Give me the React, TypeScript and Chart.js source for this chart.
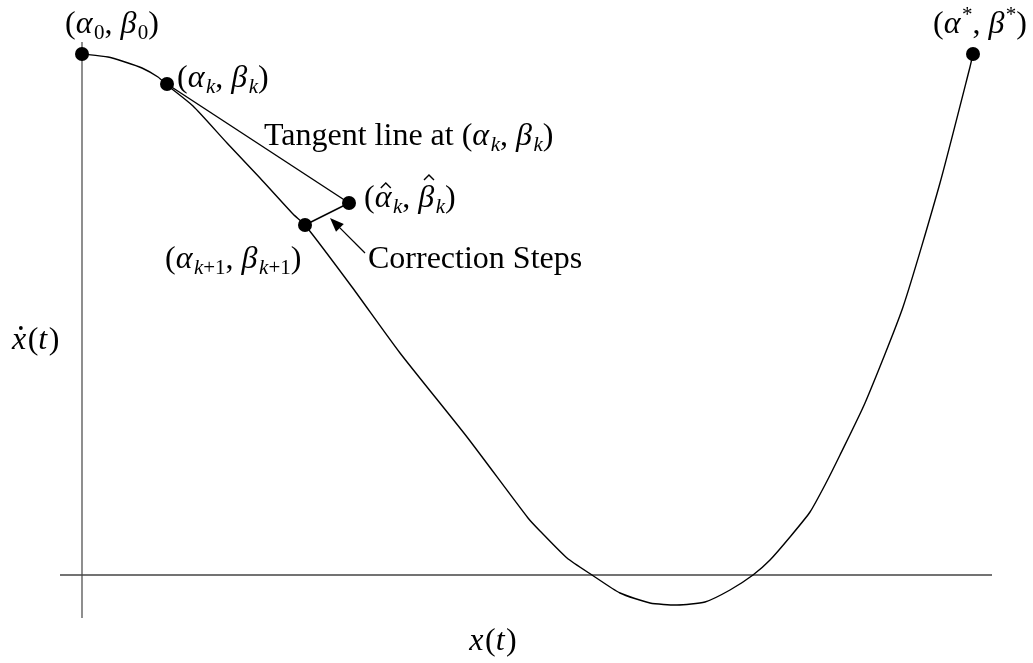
import React, { useEffect, useRef } from "react";
import { Chart, registerables } from "chart.js";

Chart.register(...registerables);

// ---- data (arbitrary diagram units; vertical axis at x = 0, horizontal axis at y = 0) ----
const curveX = [0, 2.6, 4.3, 6.0, 7.6, 8.5, 11.1, 14.5, 17.8, 21.1, 22.3, 27.0, 31.8, 38.5, 44.6, 45.8, 48.5, 51.0, 53.8, 56.8, 59.5, 62.3, 64.8, 67.1, 68.8, 70.8, 72.8, 74.4, 75.8, 78.3, 82.1, 85.8, 88.8, 89.1];
const curveY = [52.1, 51.8, 51.3, 50.7, 49.8, 49.0, 46.9, 43.2, 39.7, 36.1, 35.0, 28.8, 22.2, 13.8, 5.7, 4.4, 1.7, 0, -1.8, -2.8, -3.0, -2.7, -1.5, 0, 1.5, 3.8, 6.3, 9.2, 12.0, 17.2, 26.8, 39.2, 50.8, 52.1];

// marked points: start, (alpha_k,beta_k), predicted (hat), corrected (k+1), end
const pointNames = ["start", "k", "hat", "k1", "end"];
const pointX = [0, 8.5, 26.7, 22.3, 89.1];
const pointY = [52.1, 49.1, 37.2, 35.0, 52.1];

// axes extents
const xAxisRange = [-2.2, 91.0];
const yAxisRange = [-4.3, 53.3];

// arrow (tail -> tip)
const arrowX = [28.3, 24.8];
const arrowY = [32.2, 35.7];

const FONT = '"Liberation Serif", "DejaVu Serif", serif';

type Seg = { t: string; it?: boolean; sh?: "sub" | "sup"; hat?: boolean; dot?: boolean };

const I = (t: string, extra: Partial<Seg> = {}): Seg => ({ t, it: true, ...extra });
const R = (t: string, extra: Partial<Seg> = {}): Seg => ({ t, it: false, ...extra });

const kp1 = (): Seg[] => [I("k", { sh: "sub" }), R("+1", { sh: "sub" })];

// labels: anchor in data units, alignment
const labels: { segs: Seg[]; x: number; y: number; align: "left" | "center" }[] = [
  { segs: [R("("), I("α"), R("0", { sh: "sub" }), R(", "), I("β"), R("0", { sh: "sub" }), R(")")], x: 3.0, y: 54.2, align: "center" },
  { segs: [R("("), I("α"), I("k", { sh: "sub" }), R(", "), I("β"), I("k", { sh: "sub" }), R(")")], x: 9.5, y: 48.8, align: "left" },
  { segs: [R("Tangent line at ("), I("α"), I("k", { sh: "sub" }), R(", "), I("β"), I("k", { sh: "sub" }), R(")")], x: 18.2, y: 43.0, align: "left" },
  { segs: [R("("), I("α", { hat: true }), I("k", { sh: "sub" }), R(", "), I("β", { hat: true }), I("k", { sh: "sub" }), R(")")], x: 28.2, y: 36.8, align: "left" },
  { segs: [R("("), I("α"), ...kp1(), R(", "), I("β"), ...kp1(), R(")")], x: 8.3, y: 30.7, align: "left" },
  { segs: [R("Correction Steps")], x: 28.6, y: 30.7, align: "left" },
  { segs: [R("("), I("α"), R("*", { sh: "sup" }), R(", "), I("β"), R("*", { sh: "sup" }), R(")")], x: 89.8, y: 54.2, align: "center" },
  { segs: [I("x", { dot: true }), R("("), I("t"), R(")")], x: -7.0, y: 22.6, align: "left" },
  { segs: [I("x"), R("("), I("t"), R(")")], x: 41.1, y: -7.5, align: "center" },
];

const SIZE = 32;
const SUB = 21;

function segFont(s: Seg) {
  const size = s.sh ? SUB : SIZE;
  return `${s.it ? "italic " : ""}${size}px ${FONT}`;
}

function drawRich(ctx: CanvasRenderingContext2D, segs: Seg[], x: number, y: number, align: string) {
  const widths = segs.map((s) => {
    ctx.font = segFont(s);
    return ctx.measureText(s.t).width + (s.it && !s.sh ? 1.5 : 0);
  });
  const total = widths.reduce((a, b) => a + b, 0);
  let cx = align === "center" ? x - total / 2 : x;
  ctx.textBaseline = "alphabetic";
  ctx.textAlign = "left";
  ctx.fillStyle = "#000";
  segs.forEach((s, i) => {
    ctx.font = segFont(s);
    const dy = s.sh === "sub" ? 6 : s.sh === "sup" ? -12 : 0;
    ctx.fillText(s.t, cx, y + dy);
    const w = widths[i];
    if (s.hat) {
      const top = s.t === "β" ? y - 26 : y - 18;
      const mx = cx + w / 2 + 2;
      ctx.beginPath();
      ctx.moveTo(mx - 5, top - 1);
      ctx.lineTo(mx, top - 6);
      ctx.lineTo(mx + 5, top - 1);
      ctx.lineWidth = 1.4;
      ctx.strokeStyle = "#000";
      ctx.stroke();
    }
    if (s.dot) {
      ctx.beginPath();
      ctx.arc(cx + w / 2 + 1, y - 21, 1.9, 0, Math.PI * 2);
      ctx.fill();
    }
    cx += w;
  });
}

const overlay = {
  id: "diagramOverlay",
  afterDatasetsDraw(chart: any) {
    const { ctx, scales } = chart;
    const xs = scales.x;
    const ys = scales.y;
    ctx.save();
    // arrow
    const x0 = xs.getPixelForValue(arrowX[0]);
    const y0 = ys.getPixelForValue(arrowY[0]);
    const x1 = xs.getPixelForValue(arrowX[1]);
    const y1 = ys.getPixelForValue(arrowY[1]);
    const ang = Math.atan2(y1 - y0, x1 - x0);
    const hl = 14;
    const hw = 5.5;
    const bx = x1 - hl * Math.cos(ang);
    const by = y1 - hl * Math.sin(ang);
    ctx.strokeStyle = "#000";
    ctx.lineWidth = 1.3;
    ctx.beginPath();
    ctx.moveTo(x0, y0);
    ctx.lineTo(bx, by);
    ctx.stroke();
    ctx.fillStyle = "#000";
    ctx.beginPath();
    ctx.moveTo(x1, y1);
    ctx.lineTo(bx + hw * Math.sin(ang), by - hw * Math.cos(ang));
    ctx.lineTo(bx - hw * Math.sin(ang), by + hw * Math.cos(ang));
    ctx.closePath();
    ctx.fill();
    // labels
    labels.forEach((l) => {
      drawRich(ctx, l.segs, xs.getPixelForValue(l.x), ys.getPixelForValue(l.y), l.align);
    });
    ctx.restore();
  },
};

export default function App() {
  const ref = useRef<HTMLCanvasElement | null>(null);
  useEffect(() => {
    if (!ref.current) return;
    const idx = (n: string) => pointNames.indexOf(n);
    const seg = (a: string, b: string) => [
      { x: pointX[idx(a)], y: pointY[idx(a)] },
      { x: pointX[idx(b)], y: pointY[idx(b)] },
    ];
    const lineDs = (data: any[], color = "#000", width = 1.4, tension = 0) => ({
      data,
      showLine: true,
      borderColor: color,
      borderWidth: width,
      pointRadius: 0,
      tension,
      fill: false,
      clip: false as any,
    });
    const chart = new Chart(ref.current, {
      type: "scatter",
      data: {
        datasets: [
          {
            data: pointX.map((x, i) => ({ x, y: pointY[i] })),
            showLine: false,
            pointRadius: 7,
            pointBackgroundColor: "#000",
            pointBorderColor: "#000",
            pointBorderWidth: 0,
            clip: false as any,
          } as any,
          lineDs(seg("k", "hat")),
          lineDs(seg("k1", "hat")),
          lineDs(curveX.map((x, i) => ({ x, y: curveY[i] })), "#000", 1.4, 0.2),
          lineDs([{ x: xAxisRange[0], y: 0 }, { x: xAxisRange[1], y: 0 }], "#444", 1.5),
          lineDs([{ x: 0, y: yAxisRange[0] }, { x: 0, y: yAxisRange[1] }], "#444", 1.2),
        ] as any,
      },
      options: {
        animation: false,
        responsive: true,
        maintainAspectRatio: false,
        layout: { padding: 0, autoPadding: false } as any,
        events: [],
        scales: {
          x: { type: "linear", min: -8.2, max: 95.1, display: false },
          y: { type: "linear", min: -8.8, max: 57.5, display: false },
        },
        plugins: { legend: { display: false }, tooltip: { enabled: false } },
      },
      plugins: [overlay],
    });
    return () => chart.destroy();
  }, []);
  return (
    <div style={{ position: "absolute", left: 0, top: 0, width: 1033, height: 663, background: "#fff" }}>
      <canvas ref={ref} />
    </div>
  );
}
